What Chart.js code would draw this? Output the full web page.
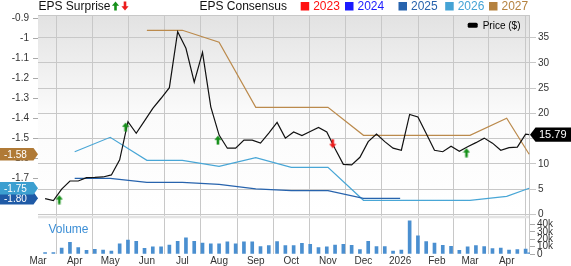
<!DOCTYPE html>
<html>
<head>
<meta charset="utf-8">
<script src="https://cdn.jsdelivr.net/npm/chart.js@4"></script>
<style>
  html, body { margin: 0; padding: 0; background: #fff; }
  #chart { display: block; }
</style>
</head>
<body>
<canvas id="chart" width="571" height="266"></canvas>
<script>
  // axis ticks
  const monthTicks = ['2025-03-01', '2025-04-01', '2025-05-01', '2025-06-01', '2025-07-01', '2025-08-01', '2025-09-01',
    '2025-10-01', '2025-11-01', '2025-12-01', '2026-01-01', '2026-02-01', '2026-03-01', '2026-04-01'];
  const monthLabels = ['Mar', 'Apr', 'May', 'Jun', 'Jul', 'Aug', 'Sep', 'Oct', 'Nov', 'Dec', '2026', 'Feb', 'Mar', 'Apr'];
  const priceTicks = [0, 5, 10, 15, 20, 25, 30, 35];
  const epsTicks = [-0.9, -1, -1.1, -1.2, -1.3, -1.4, -1.5, -1.6, -1.7, -1.8];
  const volumeTicks = [0, 10, 20, 30, 40]; // thousands

  // weekly price / volume, first week and last (partial) day
  const firstWeek = '2025-03-07';
  const lastDay = '2026-04-20';
  const priceValues = [3.1, 2.7, 5.0, 6.6, 6.6, 7.25, 7.3, 7.4, 7.8, 10.8,
    18.35, 16.05, 18.5, 21, 23, 25.1, 36.2, 32.9, 26.2, 32.1,
    21.3, 15.7, 13.1, 13.1, 14.7, 14.7, 14.1, 16.1, 18.2, 15.1,
    16.3, 15.6, 16.4, 17.2, 16.3, 13.0, 9.9, 9.8, 11.3, 14.4,
    15.9, 14.4, 13.1, 12.7, 19.8, 19.3, 16.0, 12.7, 12.4, 13.5,
    12.5, 13.4, 14.2, 15.1, 14.1, 12.7, 13.2, 13.3, 15.9, 15.79];
  const volumeValues = [1.8, 1.8, 8.2, 16, 8.7, 5, 6.4, 5.5, 4.1, 13.7,
    19, 17.4, 7.8, 9.6, 9.6, 12.3, 17.4, 21.9, 17.4, 15,
    13.7, 13.7, 16.4, 13.7, 16.4, 16.4, 10, 11.4, 16.9, 11.4,
    11.4, 14.6, 13.2, 8.7, 9.6, 12.3, 13.2, 11.9, 5.9, 17.4,
    10, 10, 4.1, 5.5, 45, 24.7, 16.9, 15, 11.9, 10.5,
    5, 9.6, 11.4, 10, 7.3, 8.2, 5.5, 5.9, 6.8, 1.5];

  // EPS consensus by fiscal year
  const epsDates = ['2025-04-01', '2025-05-01', '2025-06-01', '2025-07-01', '2025-08-01', '2025-09-01', '2025-10-01',
    '2025-11-01', '2025-12-01', '2026-01-01', '2026-02-01', '2026-03-01', '2026-04-01', '2026-04-20'];
  const eps2025 = [-1.70, -1.70, -1.72, -1.72, -1.73, -1.753, -1.762, -1.762, -1.80, -1.80, null, null, null, null];
  const eps2026 = [-1.567, -1.495, -1.61, -1.61, -1.64, -1.597, -1.645, -1.645, -1.81, -1.81, -1.81, -1.81, -1.79, -1.75];
  const eps2027 = [null, null, -0.96, -0.96, -1.02, -1.345, -1.345, -1.345, -1.485, -1.485, -1.485, -1.485, -1.40, -1.58];

  // EPS surprise markers (placed on price scale)
  const surpriseUpDates = ['2025-03-19', '2025-05-14', '2025-07-31', '2026-02-26'];
  const surpriseUpValues = [2.9, 17.3, 14.7, 12.2];
  const surpriseDownDates = ['2025-11-05'];
  const surpriseDownValues = [14.0];

  const legendYears = ['2023', '2024', '2025', '2026', '2027'];
  const yearColors = ['#ff1010', '#1a1aff', '#2763ad', '#45a3d5', '#b5823f'];

  const day = s => (Date.parse(s) - Date.parse('2025-03-01')) / 864e5;
  const weekX = i => i < priceValues.length - 1 ? day(firstWeek) + 7 * i : day(lastDay);

  function drawArrow(c, cx, cy, up, color) {
    const s = up ? 1 : -1;
    c.save();
    c.fillStyle = color;
    c.beginPath();
    c.moveTo(cx, cy - s * 4.5);
    c.lineTo(cx + 3.6, cy - s * 0.3);
    c.lineTo(cx + 1.3, cy - s * 0.3);
    c.lineTo(cx + 1.3, cy + s * 4.5);
    c.lineTo(cx - 1.3, cy + s * 4.5);
    c.lineTo(cx - 1.3, cy - s * 0.3);
    c.lineTo(cx - 3.6, cy - s * 0.3);
    c.closePath();
    c.fill();
    c.restore();
  }

  function arrowImage(up, color) {
    const cv = document.createElement('canvas');
    cv.width = 8; cv.height = 10;
    drawArrow(cv.getContext('2d'), 4, 5, up, color);
    return cv;
  }

  const GREEN = '#16901a';
  const RED = '#ec1c1c';
  const FONT = 'Liberation Sans, Arial, sans-serif';
  Chart.defaults.font.family = FONT;

  function tag(c, y, text, color, left) {
    c.save();
    c.fillStyle = color;
    c.beginPath();
    if (left) {
      c.moveTo(0, y - 6.3); c.lineTo(33.5, y - 6.3); c.lineTo(38, y);
      c.lineTo(33.5, y + 6.3); c.lineTo(0, y + 6.3);
    } else {
      c.moveTo(530, y); c.lineTo(535.5, y - 7.2); c.lineTo(571, y - 7.2);
      c.lineTo(571, y + 7.2); c.lineTo(535.5, y + 7.2);
    }
    c.closePath();
    c.fill();
    c.fillStyle = '#fff';
    c.textBaseline = 'middle';
    c.textAlign = 'left';
    if (left) {
      c.font = '10px ' + FONT;
      c.fillText(text, 4, y + 0.5);
    } else {
      c.font = '11px ' + FONT;
      c.fillText(text, 539, y + 0.5);
    }
    c.restore();
  }

  const decor = {
    id: 'decor',
    beforeDraw(chart) {
      const { ctx, chartArea: a, scales } = chart;
      const pb = scales.price.bottom;
      const g = ctx.createLinearGradient(0, a.top, 0, pb);
      g.addColorStop(0, '#e2e2e2');
      g.addColorStop(0.5, '#fbfbfb');
      g.addColorStop(1, '#ffffff');
      ctx.fillStyle = g;
      ctx.fillRect(a.left, a.top, a.right - a.left, pb - a.top);
    },
    beforeDatasetsDraw(chart) {
      const { ctx, chartArea: a, scales } = chart;
      const pb = scales.price.bottom;
      ctx.save();
      ctx.fillStyle = '#e3e3e3';
      ctx.fillRect(a.left, pb + 1.5, a.right - a.left, 2.5);
      ctx.strokeStyle = '#c8c8c8';
      ctx.lineWidth = 1;
      ctx.beginPath();
      ctx.moveTo(a.left, a.top + 0.5); ctx.lineTo(a.right, a.top + 0.5);
      ctx.moveTo(a.right - 0.5, a.top); ctx.lineTo(a.right - 0.5, a.bottom);
      ctx.stroke();
      ctx.fillStyle = '#3d8fd6';
      ctx.font = '12px ' + FONT;
      ctx.textBaseline = 'middle';
      ctx.fillText('Volume', 48.5, 229.5);
      ctx.restore();
    },
    afterDraw(chart) {
      const { ctx, scales } = chart;
      ctx.save();
      // top legend
      ctx.font = '12px ' + FONT;
      ctx.textBaseline = 'middle';
      ctx.fillStyle = '#111';
      ctx.fillText('EPS Surprise', 38.5, 6.5);
      drawArrow(ctx, 115.5, 6, true, GREEN);
      drawArrow(ctx, 125, 6, false, RED);
      ctx.fillStyle = '#111';
      ctx.fillText('EPS Consensus', 199.5, 6.5);
      const boxX = [300.7, 345, 398.5, 445.2, 489];
      legendYears.forEach((y, i) => {
        ctx.fillStyle = yearColors[i];
        ctx.fillRect(boxX[i], 2, 8.5, 8.5);
        ctx.fillText(y, boxX[i] + 12.5, 6.5);
      });
      // price legend
      ctx.fillStyle = '#000';
      ctx.beginPath();
      ctx.roundRect(467.7, 22.7, 10, 5, 1.5);
      ctx.fill();
      ctx.font = '10px ' + FONT;
      ctx.fillText('Price ($)', 482.7, 26);
      ctx.restore();

      // last value tags
      const eps = scales.eps;
      const lastOf = arr => arr.filter(v => v !== null).slice(-1)[0];
      tag(ctx, eps.getPixelForValue(lastOf(eps2027)), lastOf(eps2027).toFixed(2), '#b07a36', true);
      tag(ctx, eps.getPixelForValue(lastOf(eps2025)), lastOf(eps2025).toFixed(2), '#1f5aa6', true);
      tag(ctx, eps.getPixelForValue(lastOf(eps2026)), lastOf(eps2026).toFixed(2), '#3c9fd0', true);
      const lastPrice = priceValues[priceValues.length - 1];
      tag(ctx, scales.price.getPixelForValue(lastPrice), lastPrice.toFixed(2), '#000', false);
    }
  };

  const tickFont = { size: 10, family: FONT };
  const epsSeries = [eps2025, eps2026, eps2027];
  const epsColors = ['#2763ad', '#48a6d6', '#bb8a4c'];

  const datasets = [
    {
      type: 'scatter', yAxisID: 'price', order: 0,
      data: surpriseUpDates.map((d, i) => ({ x: day(d), y: surpriseUpValues[i] })),
      pointStyle: arrowImage(true, GREEN)
    },
    {
      type: 'scatter', yAxisID: 'price', order: 0,
      data: surpriseDownDates.map((d, i) => ({ x: day(d), y: surpriseDownValues[i] })),
      pointStyle: arrowImage(false, RED)
    },
    {
      type: 'line', yAxisID: 'price', order: 1,
      data: priceValues.map((v, i) => ({ x: weekX(i), y: v })),
      borderColor: '#111', borderWidth: 1.2, pointRadius: 0, tension: 0
    },
    ...epsSeries.map((s, k) => ({
      type: 'line', yAxisID: 'eps', order: 2,
      data: epsDates.map((d, i) => ({ x: day(d), y: s[i] })),
      borderColor: epsColors[k], borderWidth: 1.2, pointRadius: 0, spanGaps: false
    })),
    {
      type: 'bar', yAxisID: 'vol', order: 3,
      data: volumeValues.map((v, i) => ({ x: weekX(i), y: v })),
      backgroundColor: '#4a8fd0', barThickness: 3
    }
  ];

  new Chart(document.getElementById('chart'), {
    type: 'line',
    data: { datasets },
    plugins: [decor],
    options: {
      responsive: false,
      animation: false,
      layout: { padding: { top: 15, left: 0, right: 0, bottom: 0 } },
      plugins: { legend: { display: false }, tooltip: { enabled: false } },
      scales: {
        x: {
          type: 'linear', min: 0, max: 415.7, offset: false,
          afterBuildTicks: s => { s.ticks = monthTicks.map(d => ({ value: day(d) })); },
          afterFit: s => { s.height = 12; },
          ticks: {
            autoSkip: false, maxRotation: 0, padding: 1, color: '#333', font: tickFont,
            callback: (v, i) => monthLabels[i]
          },
          grid: { color: '#c8c8c8', drawTicks: false },
          border: { display: false }
        },
        eps: {
          position: 'left', min: -2.0785, max: -0.8835,
          afterBuildTicks: s => { s.ticks = epsTicks.map(v => ({ value: v })); },
          afterFit: s => { s.width = 38; },
          ticks: { autoSkip: false, padding: 4, color: '#333', font: tickFont, callback: v => String(v) },
          grid: { drawOnChartArea: false, tickLength: 5, color: '#aaa' },
          border: { display: false }
        },
        price: {
          position: 'right', stack: 'right', stackWeight: 199.3, min: 0, max: 39.5,
          afterBuildTicks: s => { s.ticks = priceTicks.map(v => ({ value: v })); },
          afterFit: s => { s.width = 41; },
          ticks: { autoSkip: false, padding: 2, color: '#333', font: tickFont, callback: v => String(v) },
          grid: { color: '#c8c8c8', tickLength: 6 },
          border: { display: false }
        },
        vol: {
          position: 'right', stack: 'right', stackWeight: 39.7, min: 0, max: 54,
          afterBuildTicks: s => { s.ticks = volumeTicks.map(v => ({ value: v })); },
          afterFit: s => { s.width = 41; },
          ticks: { autoSkip: false, padding: 2, color: '#333', font: tickFont, callback: v => v === 0 ? '0' : v + 'k' },
          grid: { drawOnChartArea: false, tickLength: 5, color: '#aaa' },
          border: { display: false }
        }
      }
    }
  });
</script>
</body>
</html>
